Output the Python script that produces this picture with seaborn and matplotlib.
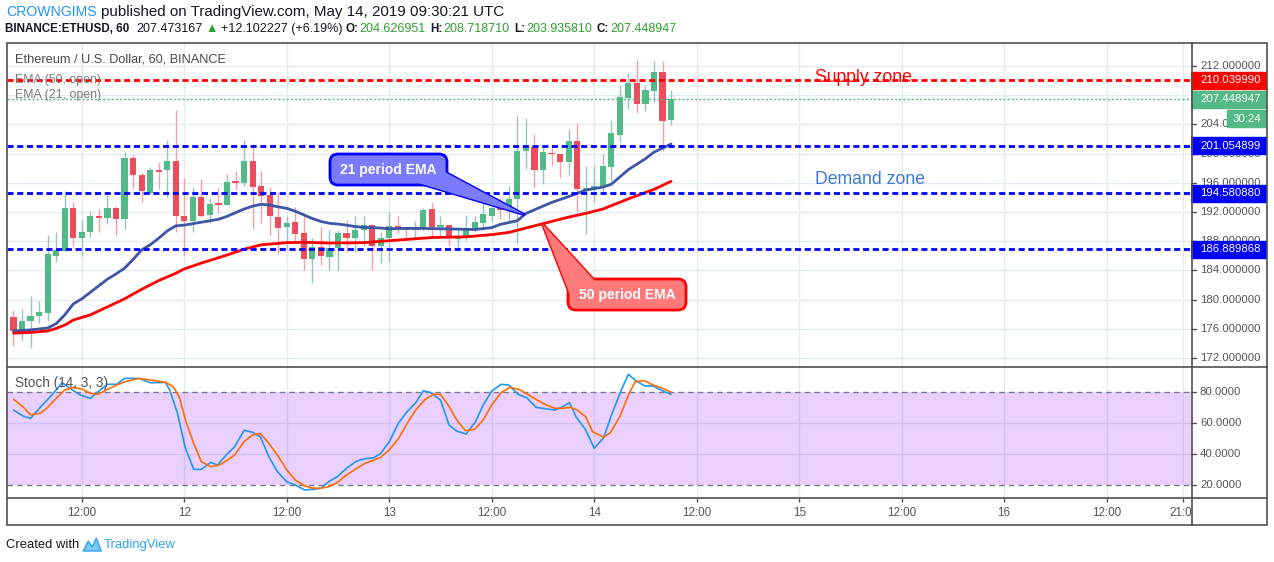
import numpy as np
import pandas as pd
import matplotlib
matplotlib.use("Agg")
import matplotlib.pyplot as plt
import seaborn as sns
from matplotlib import font_manager
from matplotlib.patches import Rectangle, FancyBboxPatch, Polygon

# ---------------- data ----------------
opens = [177.6, 175.5, 177.0, 177.8, 178.2, 186.0, 186.7, 192.6, 188.5, 189.2,
         191.5, 191.2, 192.6, 191.0, 199.4, 197.1, 194.6, 197.8, 197.7, 199.0,
         191.4, 190.7, 194.1, 191.6, 193.1, 193.0, 196.1, 196.0, 199.0, 195.5,
         194.3, 191.3, 190.0, 190.6, 189.1, 185.5, 187.2, 185.9, 187.0, 189.1,
         188.5, 189.5, 190.2, 187.4, 188.4, 190.1, 189.9, 189.6, 189.7, 192.4,
         189.9, 190.2, 188.3, 188.5, 189.7, 190.5, 191.5, 192.7, 192.3, 193.8,
         200.3, 200.9, 197.7, 200.1, 199.9, 198.9, 201.7, 194.9, 195.2, 195.6,
         198.2, 202.6, 207.6, 209.7, 206.8, 208.6, 211.2, 204.63]
highs = [178.6, 178.7, 180.5, 179.8, 188.9, 189.3, 194.9, 193.4, 190.9, 192.1,
         192.4, 194.3, 192.8, 200.2, 199.8, 197.4, 198.2, 198.9, 201.9, 206.0,
         196.7, 195.4, 196.5, 193.9, 195.3, 197.2, 197.6, 201.9, 201.3, 197.6,
         195.4, 194.7, 191.5, 192.7, 191.6, 188.4, 190.0, 189.5, 189.5, 190.9,
         191.4, 191.4, 190.3, 189.2, 192.0, 191.5, 190.0, 190.8, 192.6, 193.4,
         191.4, 190.3, 189.8, 191.6, 191.4, 193.4, 193.6, 193.9, 195.6, 205.1,
         204.9, 202.7, 200.9, 201.3, 199.9, 203.4, 204.2, 198.3, 198.4, 200.0,
         204.6, 209.4, 211.1, 212.8, 209.4, 212.7, 212.7, 208.72]
lows = [173.6, 174.4, 173.3, 176.8, 177.0, 185.2, 186.6, 187.4, 186.0, 188.6,
        189.3, 190.4, 188.9, 189.7, 195.3, 193.3, 194.5, 195.2, 194.0, 189.3,
        186.1, 189.3, 191.3, 190.5, 191.8, 192.9, 195.0, 195.6, 189.7, 190.5,
        188.8, 186.3, 186.8, 187.7, 184.1, 182.3, 184.8, 184.1, 184.1, 186.5,
        186.5, 187.3, 184.1, 185.0, 185.2, 189.1, 188.4, 188.4, 189.5, 188.5,
        188.6, 187.3, 187.0, 188.2, 189.3, 189.5, 190.7, 191.1, 190.7, 187.7,
        197.9, 195.3, 195.8, 198.4, 196.7, 197.1, 192.0, 189.0, 193.4, 194.8,
        196.2, 201.6, 206.1, 205.6, 205.8, 207.0, 200.4, 203.94]
closes = [175.7, 177.1, 177.8, 178.3, 186.3, 186.8, 192.6, 188.4, 189.3, 191.5,
          191.2, 192.6, 191.0, 199.4, 197.0, 194.9, 197.8, 197.5, 199.0, 191.4,
          190.7, 194.1, 191.5, 193.1, 193.0, 196.1, 196.0, 199.0, 195.4, 194.2,
          191.4, 189.8, 190.5, 189.0, 185.6, 187.2, 186.0, 187.1, 189.1, 188.5,
          189.5, 190.2, 187.4, 188.4, 190.1, 189.5, 189.6, 189.9, 192.3, 189.9,
          190.2, 188.4, 188.7, 189.8, 190.6, 191.7, 192.6, 192.3, 193.8, 200.4,
          200.9, 197.7, 200.2, 199.9, 198.9, 201.7, 195.1, 195.3, 195.6, 198.3,
          202.8, 207.8, 209.7, 206.8, 208.7, 211.2, 204.5, 207.45]

ema21_t = [0, 2, 4, 5, 6, 7, 8, 9, 10, 11, 12, 13, 14, 15, 16, 17, 18, 19, 20, 21,
           22, 23, 24, 25, 26, 27, 28, 29, 30, 31, 32, 33, 34, 35, 36, 37, 38, 39,
           40, 41, 42, 43, 44, 46, 48, 50, 52, 54, 56, 57, 59, 60, 61, 63, 65, 67,
           69, 70, 72, 74, 75, 77]
ema21_v = [175.7, 175.85, 176.1, 176.7, 177.9, 179.4, 180.1, 181.0, 181.9, 182.8,
           183.5, 184.3, 185.5, 186.8, 187.5, 188.4, 189.4, 190.1, 190.2, 190.4,
           190.6, 190.8, 191.0, 191.4, 191.9, 192.4, 192.8, 193.05, 192.95, 192.7,
           192.5, 192.1, 191.6, 191.1, 190.7, 190.45, 190.35, 190.2, 190.0, 189.9,
           189.85, 189.8, 189.7, 189.75, 189.75, 189.7, 189.65, 189.6, 189.85, 190.3,
           190.8, 191.8, 192.3, 193.3, 194.1, 195.0, 195.4, 195.8, 197.8, 199.3,
           200.2, 201.3]
ema50_t = [0, 2, 4, 5, 6, 7, 9, 11, 13, 15, 17, 19, 20, 22, 25, 27, 29, 32, 34, 37,
           41, 45, 49, 53, 56, 58, 62, 65, 67, 69, 72, 75, 77]
ema50_v = [175.4, 175.5, 175.7, 176.05, 176.5, 177.2, 177.9, 179.0, 180.1, 181.4,
           182.6, 183.6, 184.2, 185.0, 186.1, 186.9, 187.5, 187.8, 187.85, 187.75,
           187.8, 188.15, 188.5, 188.6, 188.9, 189.2, 190.4, 191.3, 191.8, 192.4,
           193.8, 195.1, 196.2]

stoch_k_t = [0.0, 1.1, 2.0, 3.2, 4.5, 5.7, 6.8, 7.8, 9.0, 9.9, 11.0, 12.1, 13.0, 14.7,
             16.0, 17.8, 18.3, 19.2, 20.1, 21.1, 22.0, 23.1, 23.9, 24.9, 25.9, 27.0,
             28.0, 28.9, 29.9, 30.9, 32.0, 33.0, 34.1, 35.1, 36.0, 36.9, 37.9, 39.0,
             40.2, 41.2, 42.2, 43.0, 44.0, 45.1, 46.1, 47.1, 48.0, 48.9, 50.0, 51.0,
             51.9, 53.0, 54.1, 55.0, 56.0, 57.1, 58.0, 59.1, 60.1, 61.2, 62.3, 63.4,
             64.3, 65.1, 65.9, 67.0, 68.0, 69.1, 70.1, 71.2, 72.0, 72.8, 73.9, 74.9,
             76.0, 77.0]
stoch_k = [68.6, 64.7, 63.2, 70.7, 78.3, 86.2, 81.9, 78.3, 76.1, 80.4, 85.2, 85.2,
           89.0, 89.0, 86.2, 86.4, 81.5, 66.5, 44.5, 30.3, 30.3, 34.8, 33.1, 39.5,
           44.9, 55.5, 54.2, 51.4, 38.5, 28.8, 22.3, 20.2, 17.0, 17.4, 18.1, 22.3,
           25.5, 31.0, 35.7, 37.2, 37.8, 40.6, 48.1, 60.4, 67.5, 73.3, 81.0, 79.7,
           75.0, 58.9, 55.0, 53.1, 61.0, 71.8, 80.8, 85.2, 84.7, 78.7, 76.5, 70.3,
           69.4, 68.6, 70.7, 73.3, 63.9, 55.7, 43.9, 50.7, 66.5, 81.9, 91.6, 87.9,
           84.1, 84.1, 81.0, 78.7]
stoch_d_t = [0.0, 1.1, 2.0, 3.1, 3.9, 5.0, 6.0, 7.0, 8.1, 9.0, 9.9, 11.0, 12.1, 13.1,
             14.7, 16.0, 17.8, 18.7, 19.4, 20.2, 21.1, 22.0, 23.1, 24.1, 24.9, 25.9,
             27.0, 28.0, 28.9, 29.9, 30.9, 32.0, 33.0, 34.1, 35.1, 36.0, 36.9, 37.9,
             39.0, 40.2, 41.2, 42.2, 43.0, 44.0, 45.1, 46.1, 47.1, 48.2, 49.2, 50.0,
             50.9, 51.9, 52.9, 54.0, 55.0, 56.0, 57.1, 58.1, 59.2, 60.2, 61.3, 62.4,
             63.4, 64.3, 65.2, 66.0, 67.0, 67.8, 69.1, 69.9, 71.0, 72.1, 72.8, 73.9,
             74.9, 76.0, 77.0]
stoch_d = [75.5, 70.8, 65.4, 66.5, 69.7, 76.1, 81.5, 83.2, 81.9, 79.4, 78.7, 81.9,
           84.7, 86.9, 89.0, 88.0, 86.5, 83.7, 77.2, 61.1, 47.1, 35.3, 32.0, 33.1,
           35.7, 39.6, 48.2, 52.5, 53.5, 47.1, 39.6, 29.9, 23.4, 19.6, 18.1, 18.1,
           19.1, 21.7, 26.7, 31.0, 34.2, 36.3, 38.1, 42.8, 50.3, 60.0, 68.6, 75.5,
           78.7, 78.7, 71.8, 62.2, 55.3, 56.1, 62.2, 71.8, 79.8, 83.2, 81.9, 78.7,
           75.1, 71.8, 69.7, 69.7, 70.3, 68.6, 64.3, 54.6, 51.0, 54.0, 64.3, 79.4,
           86.9, 87.5, 84.7, 82.6, 80.2]

level_red = 210.039990
levels_blue = [201.054899, 194.580880, 186.889868]
last_price = 207.448947
price_ticks = [212, 208, 204, 200, 196, 192, 188, 184, 180, 176, 172]
price_tick_labels_shown = [212, 204, 200, 196, 192, 188, 184, 180, 176, 172]
stoch_ticks = [80, 60, 40, 20]
time_tick_pos = [8, 20, 32, 44, 56, 68, 80, 92, 104, 116, 128, 137]
time_tick_labels = ["12:00", "12", "12:00", "13", "12:00", "14", "12:00", "15",
                    "12:00", "16", "12:00", "21:00"]

# ---------------- style ----------------
sns.set_theme(style="white")
names = {f.name for f in font_manager.fontManager.ttflist}
BASE = 'Liberation Sans' if 'Liberation Sans' in names else 'DejaVu Sans'
plt.rcParams['font.family'] = [BASE, 'DejaVu Sans']

UP, DOWN = '#53b987', '#eb4d5c'
UP_W, DOWN_W = '#97c5c0', '#f3a0a8'
GRID = '#e3ebf0'
AXTXT = '#555555'
FRAME = '#505050'

W, H = 1274, 562
fig = plt.figure(figsize=(W / 100, H / 100), dpi=100)
fig.patch.set_facecolor('white')


def fx(px):
    return px / W


def fy(py):
    return 1 - py / H


def add_ax(x0, y0, x1, y1):
    a = fig.add_axes([fx(x0), fy(y1), (x1 - x0) / W, (y1 - y0) / H])
    a.set_axis_off()
    return a


XL = (-0.76, 137.88)

# ---------------- main pane ----------------
ax = add_ax(7, 43, 1191, 366)
ax.set_xlim(*XL)
ax.set_ylim(170.90, 215.15)
for v in price_ticks:
    ax.axhline(v, color=GRID, lw=1, zorder=0)
for t in time_tick_pos:
    ax.axvline(t, color=GRID, lw=1, zorder=0)

o = np.array(opens); h = np.array(highs); l = np.array(lows); c = np.array(closes)
idx = np.arange(len(o))
up = c >= o
ax.vlines(idx, l, h, colors=np.where(up, UP_W, DOWN_W), lw=1, zorder=2)
bottoms = np.minimum(o, c)
heights = np.maximum(np.abs(c - o), 0.22)
ax.bar(idx, heights, bottom=bottoms, width=0.72, color=np.where(up, UP, DOWN),
       lw=0, zorder=3)

df21 = pd.DataFrame({'t': ema21_t, 'v': ema21_v})
df50 = pd.DataFrame({'t': ema50_t, 'v': ema50_v})
sns.lineplot(data=df21, x='t', y='v', ax=ax, color='#3d56a6', lw=2, zorder=4)
sns.lineplot(data=df50, x='t', y='v', ax=ax, color='#ff0000', lw=2, zorder=4)
ax.set_axis_off()

ax.axhline(level_red, color='#ff0000', lw=2, dashes=(2.2, 1.3), zorder=5)
for v in levels_blue:
    ax.axhline(v, color='#0000ff', lw=2, dashes=(2.2, 1.3), zorder=5)
ax.axhline(last_price, color=UP, lw=1, dashes=(1.5, 1.5), zorder=5)

# price axis for main pane
pax = add_ax(1191, 43, 1267, 366)
pax.set_xlim(0, 76)
pax.set_ylim(*ax.get_ylim())
PFS = 8.2
for v in price_ticks:
    pax.plot([0, 5], [v, v], color=AXTXT, lw=1)
for v in price_tick_labels_shown:
    pax.text(9, v, f"{v:.6f}", color=AXTXT, fontsize=PFS, va='center', ha='left')
bh = 17 / 7.3
for v, col in [(level_red, '#ff0000'), (last_price, UP)] + [(b, '#0000ff') for b in levels_blue]:
    pax.add_patch(Rectangle((0, v - bh / 2), 76, bh, color=col, zorder=5))
    pax.text(9, v, f"{v:.6f}", color='white', fontsize=PFS, va='center', ha='left', zorder=6)
pax.add_patch(Rectangle((36, 203.64), 40, 2.33, color=UP, zorder=7))
pax.text(56, 204.8, "30:24", color='white', fontsize=PFS, va='center', ha='center', zorder=8)

# ---------------- stochastic pane ----------------
axs = add_ax(7, 366, 1191, 498)
axs.set_xlim(*XL)
axs.set_ylim(11.8, 97.0)
for t in time_tick_pos:
    axs.axvline(t, color=GRID, lw=1, zorder=0)
for v in [40, 60]:
    axs.axhline(v, color=GRID, lw=1, zorder=0)
axs.axhspan(20, 80, color='#9915ff', alpha=0.2, lw=0, zorder=1)
for v in [80, 20]:
    axs.axhline(v, color='#787b86', lw=1, dashes=(4, 3), zorder=2)
dk = pd.DataFrame({'t': stoch_k_t, 'v': stoch_k})
dd = pd.DataFrame({'t': stoch_d_t, 'v': stoch_d})
sns.lineplot(data=dk, x='t', y='v', ax=axs, color='#2196f3', lw=1.2, zorder=3)
sns.lineplot(data=dd, x='t', y='v', ax=axs, color='#ff6d00', lw=1.2, zorder=3)
axs.set_axis_off()

sax = add_ax(1191, 366, 1267, 498)
sax.set_xlim(0, 76)
sax.set_ylim(*axs.get_ylim())
for v in stoch_ticks:
    sax.plot([0, 5], [v, v], color=AXTXT, lw=1)
    sax.text(9, v, f"{v:.4f}", color=AXTXT, fontsize=PFS, va='center', ha='left')

# ---------------- time axis ----------------
axt = add_ax(7, 498, 1191, 525)
axt.set_xlim(*XL)
axt.set_ylim(0, 1)
axt.vlines(time_tick_pos, 0.84, 1.0, color=AXTXT, lw=1)
for t, s in zip(time_tick_pos, time_tick_labels):
    axt.text(t, 0.44, s, color=AXTXT, fontsize=8.4, ha='center', va='center', clip_on=True)

# ---------------- overlay (pixel coordinates) ----------------
ov = fig.add_axes([0, 0, 1, 1])
ov.set_xlim(0, W)
ov.set_ylim(H, 0)
ov.set_axis_off()
ov.set_zorder(10)

ov.add_patch(Rectangle((7, 43), 1260, 482, fill=False, edgecolor=FRAME, lw=1.2))
ov.plot([1191.5, 1191.5], [43, 525], color=FRAME, lw=1.2)
ov.plot([7, 1267], [366.5, 366.5], color=FRAME, lw=1.2)
ov.plot([7, 1267], [498, 498], color=FRAME, lw=1.2)


def data_to_px(a, x, y):
    disp = a.transData.transform((x, y))
    return tuple(ov.transData.inverted().transform(disp))


def callout(x0, y0, w, hgt, base1, base2, tip, fill, edge, text):
    tri = [base1, base2, tip]
    ov.add_patch(Polygon(tri, closed=True, facecolor=fill, edgecolor=edge, lw=2, zorder=1))
    ov.add_patch(FancyBboxPatch((x0, y0), w, hgt, boxstyle="round,pad=0,rounding_size=8",
                                facecolor=fill, edgecolor=edge, lw=2, zorder=2))
    ov.add_patch(Polygon(tri, closed=True, facecolor=fill, edgecolor='none', zorder=3))
    ov.text(x0 + w / 2, y0 + hgt / 2 + 0.5, text, color='white', fontsize=10,
            fontweight='bold', ha='center', va='center', zorder=4)


tip21 = data_to_px(ax, 59.9, 191.6)
tip50 = data_to_px(ax, 61.9, 190.45)
callout(330, 154, 117, 31, (418, 183), (445, 172), tip21, '#7b7bff', '#0000ff', "21 period EMA")
callout(568, 279, 118, 31, (570, 295), (595, 281), tip50, '#ff7b7b', '#ff0000', "50 period EMA")

# pane texts
ov.text(15, 60, "Ethereum / U.S. Dollar, 60, BINANCE", color='#4a4a4a', fontsize=9.2, va='center')
ov.text(15, 80, "EMA (50, open)", color='#7a7a7a', fontsize=8.9, va='center')
ov.text(15, 95, "EMA (21, open)", color='#7a7a7a', fontsize=8.9, va='center')
ov.text(15, 383, "Stoch (14, 3, 3)", color='#555555', fontsize=9.8, va='center')
ov.text(815, 78, "Supply zone", color='#ff0000', fontsize=12.7, va='center')
ov.text(815, 179, "Demand zone", color='#3c78d8', fontsize=12.7, va='center')

# ---------------- header / footer ----------------
renderer = fig.canvas.get_renderer()


def chain(x, y, parts):
    for s, col, wt, size, gap in parts:
        t = ov.text(x, y, s, color=col, fontsize=size, fontweight=wt, va='center', ha='left')
        bb = t.get_window_extent(renderer=renderer)
        x += bb.width + gap
    return x


DARK = '#131722'
GREEN = '#2ea02e'
chain(6, 12, [("CROWNGIMS", '#2196f3', 'normal', 10.2, 4),
              ("published on TradingView.com, May 14, 2019 09:30:21 UTC", DARK, 'normal', 10.9, 0)])
VS = 9.0
BS = 8.4
chain(5, 29, [("BINANCE:ETHUSD, 60", DARK, 'bold', BS, 7),
              ("207.473167", DARK, 'normal', VS, 3),
              ("▲", GREEN, 'normal', VS, 3),
              ("+12.102227 (+6.19%)", DARK, 'normal', VS, 3),
              ("O:", DARK, 'bold', BS, 1), ("204.626951", GREEN, 'normal', VS, 5),
              ("H:", DARK, 'bold', BS, 1), ("208.718710", GREEN, 'normal', VS, 4),
              ("L:", DARK, 'bold', BS, 1), ("203.935810", GREEN, 'normal', VS, 5),
              ("C:", DARK, 'bold', BS, 1), ("207.448947", GREEN, 'normal', VS, 0)])

xe = chain(6, 545, [("Created with", DARK, 'normal', 9.4, 4)])
logo = [(xe, 551), (xe + 5, 541), (xe + 9, 547), (xe + 13, 538), (xe + 18, 551)]
ov.add_patch(Polygon(logo, closed=True, facecolor='#7ec8f3', edgecolor='#2ea3f2', lw=1))
chain(xe + 20, 545, [("TradingView", '#2ea3f2', 'normal', 9.4, 0)])

fig.savefig('out.png', dpi=100)
